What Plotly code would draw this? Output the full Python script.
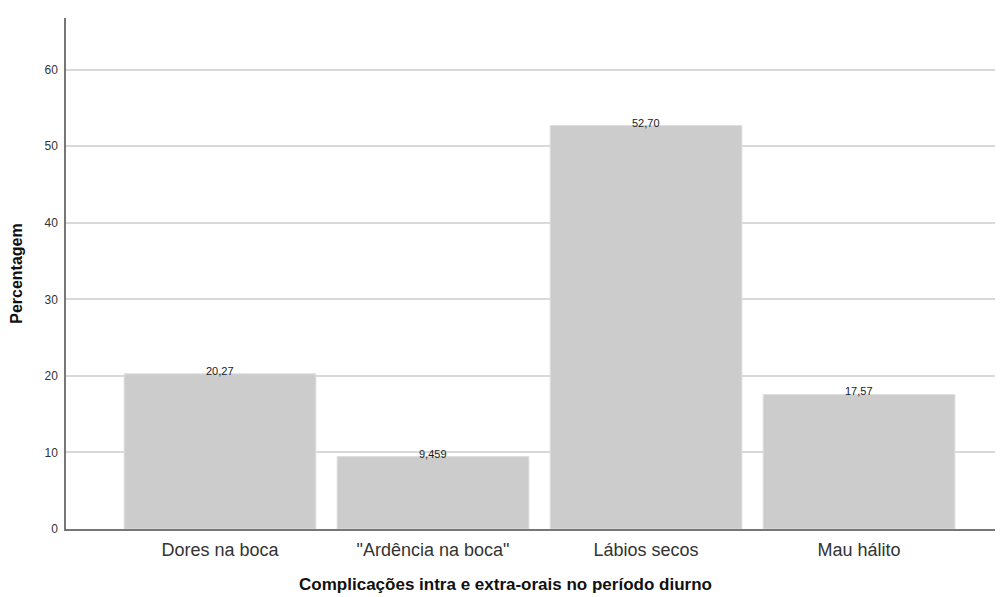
import plotly.graph_objects as go

categories = ["Dores na boca", "\"Ardência na boca\"", "Lábios secos", "Mau hálito"]
values = [20.27, 9.459, 52.70, 17.57]
value_labels = ["20,27", "9,459", "52,70", "17,57"]
y_ticks = [0, 10, 20, 30, 40, 50, 60]
x_title = "Complicações intra e extra-orais no período diurno"
y_title = "Percentagem"

FONT = "Liberation Sans, Arial"

fig = go.Figure()
fig.add_trace(go.Bar(
    x=list(range(len(categories))),
    y=values,
    width=0.9,
    marker=dict(color="#cccccc", line=dict(color="#dedede", width=1)),
    hoverinfo="skip",
))

for i, (v, lab) in enumerate(zip(values, value_labels)):
    fig.add_annotation(x=i, y=v, text=lab, showarrow=False, yanchor="bottom",
                       yshift=-5, font=dict(family=FONT, size=11, color="#1a1a1a"))

# page body has an 8px default margin; compensate so the plot lands where the reference has it
fig.update_layout(
    width=995, height=589,
    margin=dict(l=58, r=1, t=10, b=68),
    plot_bgcolor="white", paper_bgcolor="white",
    showlegend=False,
    bargap=0.1,
    title=dict(text="<b>" + x_title + "</b>", xref="container", x=0.5, xanchor="center",
               yref="container", y=0.022, yanchor="middle",
               font=dict(family=FONT, size=17, color="#111111")),
    xaxis=dict(
        tickmode="array", tickvals=list(range(len(categories))), ticktext=categories,
        range=[-0.723, 3.671],
        showline=True, linecolor="#777777", linewidth=1.5,
        showgrid=False, ticks="",
        ticklabelstandoff=4,
        tickfont=dict(family=FONT, size=18, color="#333333"),
    ),
    yaxis=dict(
        range=[0, 66.75],
        tickmode="array", tickvals=y_ticks,
        showline=True, linecolor="#777777", linewidth=1.5,
        showgrid=True, gridcolor="#d9d9d9", gridwidth=1.5,
        zeroline=False, ticks="", ticklen=0,
        ticklabelstandoff=4,
        tickfont=dict(family=FONT, size=12, color="#333333"),
        title=dict(text="<b>" + y_title + "</b>",
                   font=dict(family=FONT, size=16, color="#111111"),
                   standoff=18),
    ),
)

fig.write_html("out.html")
